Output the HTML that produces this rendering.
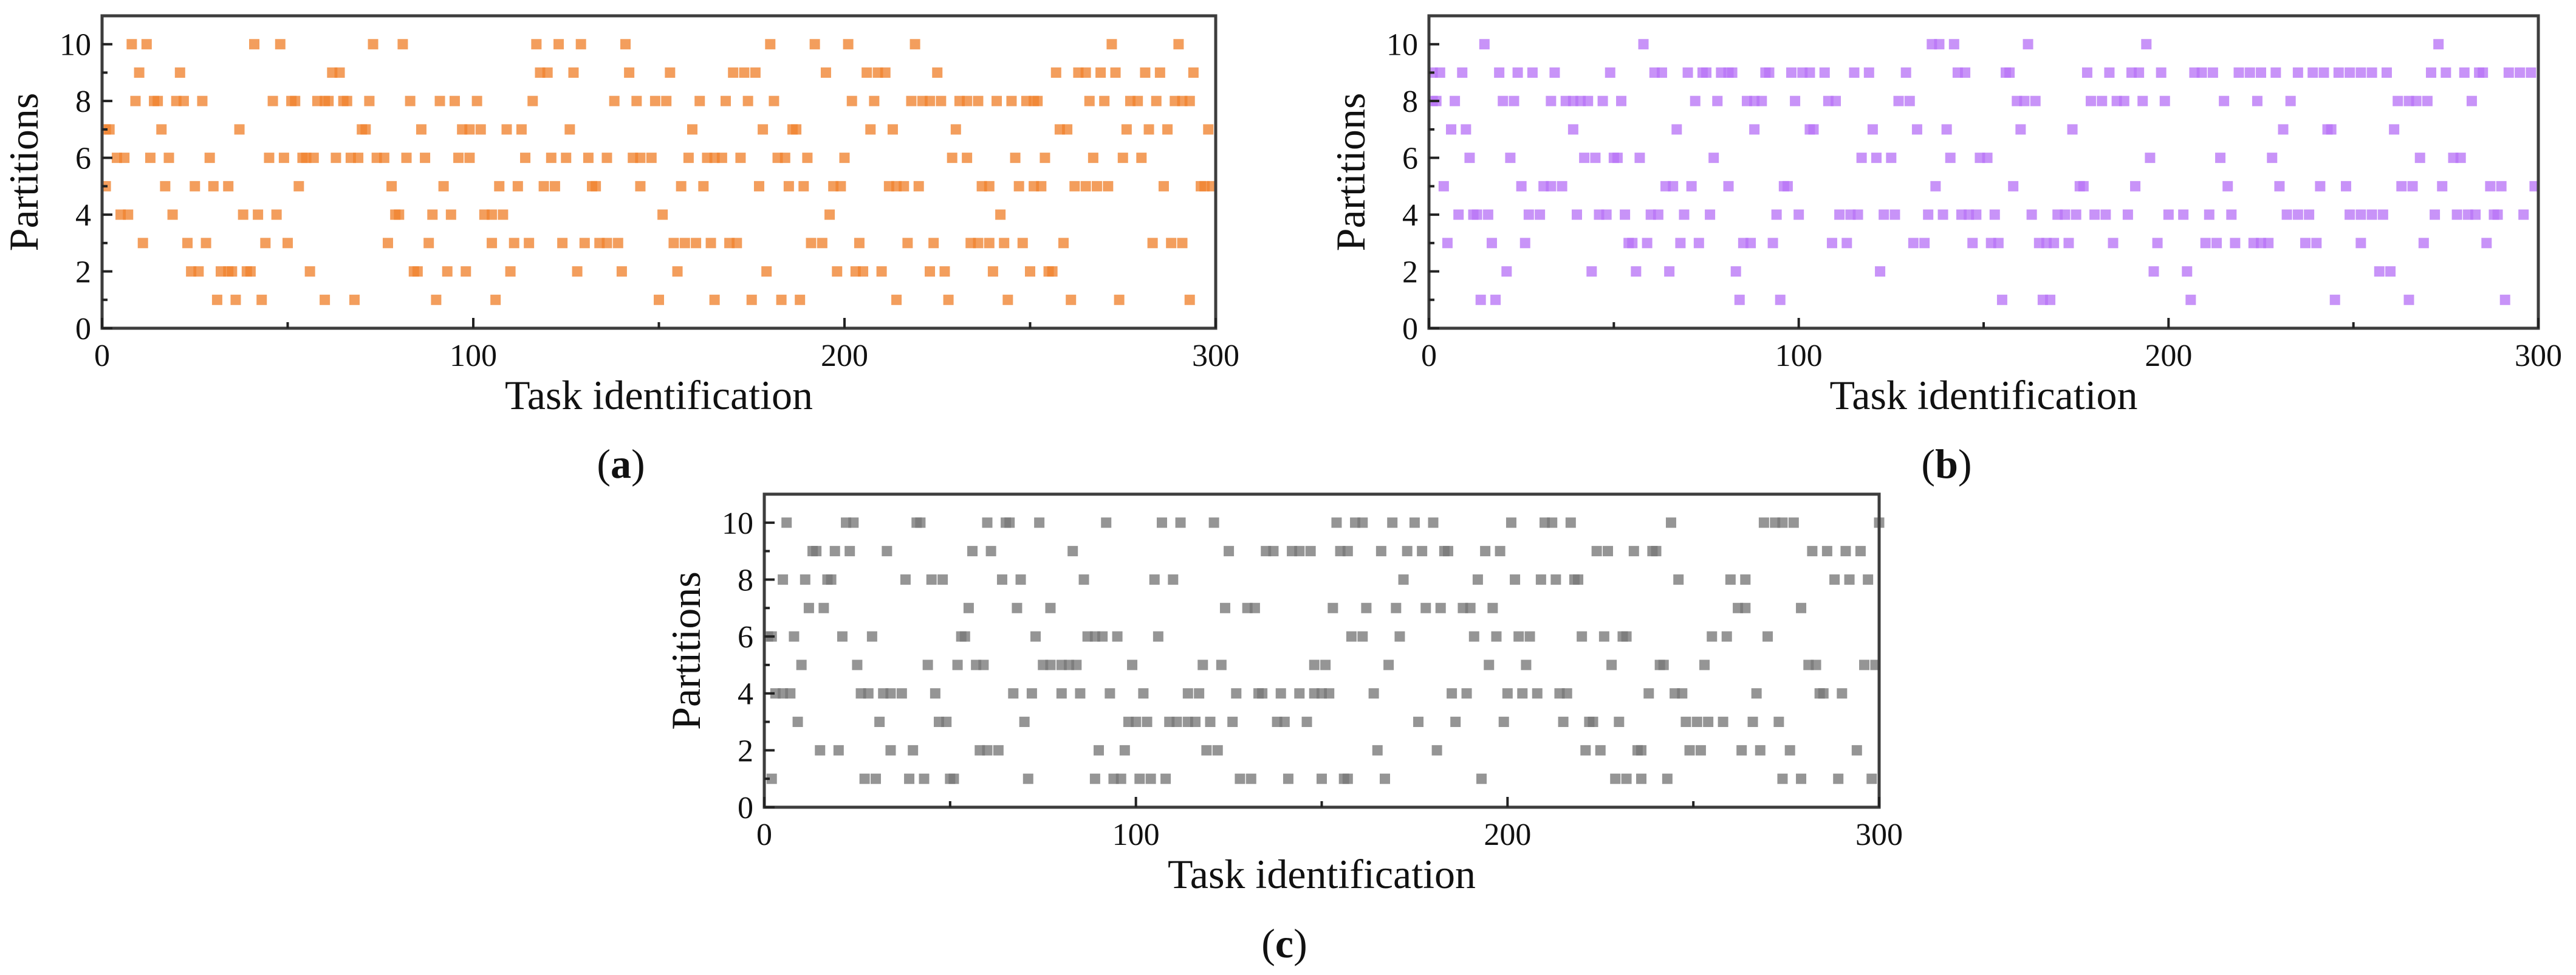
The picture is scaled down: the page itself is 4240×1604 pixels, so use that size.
<!DOCTYPE html>
<html><head><meta charset="utf-8">
<style>
html,body{margin:0;padding:0;background:#fff;}
svg{display:block;}
text{font-family:"Liberation Serif","Times New Roman",serif;fill:#111;}
</style></head>
<body>
<svg id="fig" width="4240" height="1604" viewBox="0 0 4240 1604" xmlns="http://www.w3.org/2000/svg">
  <rect width="4240" height="1604" fill="#fff"/>
  <g id="panel-a"></g>
  <g id="panel-b"></g>
  <g id="panel-c"></g>
  <text x="1022" y="786" font-size="68" text-anchor="middle">(<tspan font-weight="bold">a</tspan>)</text>
  <text x="3204" y="786" font-size="68" text-anchor="middle">(<tspan font-weight="bold">b</tspan>)</text>
  <text x="2114" y="1575" font-size="68" text-anchor="middle">(<tspan font-weight="bold">c</tspan>)</text>
</svg>
<script>
// ---- data: task ids per partition level ----
const xDomain = [0, 300];
const yDomain = [0, 11];
const xTickValues = [0, 100, 200, 300];
const xTickLabels = ["0", "100", "200", "300"];
const xMinorValues = [50, 150, 250];
const yTickValues = [0, 2, 4, 6, 8, 10];
const yTickLabels = ["0", "2", "4", "6", "8", "10"];
const yMinorValues = [1, 3, 5, 7, 9];
const partitionLevels = [10, 9, 8, 7, 6, 5, 4, 3, 2, 1];

const a10 = [8,12,41,48,73,81,117,123,129,141,180,192,201,219,272,290];
const a9 = [10,21,62,64,118,120,127,142,153,170,173,176,195,206,209,211,225,257,263,265,269,273,281,285,294];
const a8 = [9,14,15,20,22,27,46,51,52,58,60,61,65,66,72,83,91,95,101,116,138,144,149,152,161,168,174,181,202,208,218,221,223,226,231,233,236,241,245,249,251,252,266,270,277,279,284,289,291,293];
const a7 = [1,2,16,37,70,71,86,97,99,102,109,113,126,159,178,186,187,207,213,230,258,260,276,282,287,298];
const a6 = [4,6,13,18,29,45,49,54,55,57,63,67,69,74,76,82,87,96,99,114,121,125,131,136,143,145,148,158,163,165,167,172,182,184,190,200,229,233,246,254,267,275,280];
const a5 = [1,17,25,30,34,53,78,92,107,112,119,122,132,133,145,156,162,177,185,189,197,199,212,214,216,220,237,239,247,251,253,262,265,268,271,286,296,297,299];
const a4 = [5,7,19,38,42,47,79,80,89,94,103,105,108,151,196,242];
const a3 = [11,23,28,44,50,77,88,105,111,115,124,130,134,136,139,154,157,160,164,169,171,191,194,204,217,224,234,236,239,243,248,259,283,288,291];
const a2 = [24,26,32,34,35,39,40,56,84,85,93,98,110,128,140,155,179,198,203,205,210,223,227,240,250,255,256];
const a1 = [31,36,43,60,68,90,106,150,165,175,183,188,214,228,244,261,274,293];

const b10 = [15,58,136,138,142,162,194,273];
const b9 = [1,3,9,19,24,28,34,49,61,63,70,74,75,79,81,82,91,92,98,101,103,107,115,119,129,143,145,156,157,178,184,190,192,198,207,209,212,219,222,225,229,235,239,242,246,249,252,255,259,271,275,280,284,285,292,295,298];
const b8 = [1,2,7,20,23,33,37,39,41,43,47,52,72,78,86,88,90,99,108,110,127,130,159,161,164,179,182,186,188,193,199,215,224,233,262,265,267,270,282];
const b7 = [6,10,39,67,88,103,104,120,132,140,160,174,231,243,244,261];
const b6 = [11,22,42,45,50,51,57,77,117,121,125,141,149,151,195,214,228,268,277,279];
const b5 = [4,25,31,33,36,64,66,71,81,96,97,137,158,176,177,191,216,230,241,248,263,266,274,287,290,299];
const b4 = [8,12,13,16,27,30,40,46,48,53,60,62,69,76,94,100,111,114,116,123,126,135,139,144,146,148,153,163,170,172,175,180,183,189,200,204,211,217,232,235,238,249,252,255,258,272,278,281,283,288,289,296];
const b3 = [5,17,26,54,55,59,68,73,85,87,93,109,113,131,134,147,152,154,165,167,169,173,185,197,210,213,218,223,225,227,237,240,252,269,286];
const b2 = [21,44,56,65,83,122,196,205,257,260];
const b1 = [14,18,84,95,155,166,168,206,245,265,291];

const c10 = [6,22,24,41,42,60,65,66,74,92,107,112,121,154,159,161,169,175,180,201,210,212,217,244,269,272,274,277,300];
const c9 = [13,14,19,23,33,56,61,83,125,135,137,142,144,147,155,157,166,173,177,183,184,194,198,224,227,234,239,240,282,286,291,295];
const c8 = [5,11,17,18,38,45,48,64,69,86,105,110,172,192,202,209,213,218,219,246,260,264,288,292,297];
const c7 = [12,16,55,68,77,124,130,132,153,162,170,178,182,188,190,196,262,264,279];
const c6 = [1,2,8,21,29,53,54,73,87,89,91,95,106,158,161,171,191,197,203,206,220,226,231,232,255,259,270];
const c5 = [10,25,44,52,57,59,75,77,80,82,84,99,118,123,148,151,168,195,205,228,241,242,253,281,283,296,299];
const c4 = [3,5,7,26,28,32,34,37,46,67,72,80,85,93,102,114,117,127,133,134,139,144,148,150,152,164,185,189,200,204,208,214,216,238,245,247,267,284,285,290];
const c3 = [9,31,47,49,70,98,100,103,109,111,114,116,120,126,138,140,146,176,186,199,215,222,223,230,248,251,254,258,266,273];
const c2 = [15,20,34,40,58,60,63,90,97,119,122,165,181,221,225,235,236,249,252,263,268,276,294];
const c1 = [2,27,30,39,43,50,51,71,89,94,96,101,104,108,128,131,141,150,156,157,167,193,229,232,236,243,274,279,289,298];

const rowsA = [a10,a9,a8,a7,a6,a5,a4,a3,a2,a1];
const rowsB = [b10,b9,b8,b7,b6,b5,b4,b3,b2,b1];
const rowsC = [c10,c9,c8,c7,c6,c5,c4,c3,c2,c1];

const NS = "http://www.w3.org/2000/svg";
function mk(tag, attrs, parent) {
  const el = document.createElementNS(NS, tag);
  for (const k in attrs) el.setAttribute(k, attrs[k]);
  parent.appendChild(el);
  return el;
}

function drawPanel(gid, box, rows, color, key) {
  const g = document.getElementById(gid);
  const xs = t => box.left + (t - xDomain[0]) / (xDomain[1] - xDomain[0]) * (box.right - box.left);
  const ys = p => box.bottom - (p - yDomain[0]) / (yDomain[1] - yDomain[0]) * (box.bottom - box.top);
  const W = 17, H = 17;
  const marks = mk("g", {}, g);
  
  
  rows.forEach((row, i) => {
    const p = partitionLevels[i];
    row.forEach(t => {
      const r = mk("rect", {x: xs(t) - W / 2, y: ys(p) - H / 2, width: W, height: H, fill: color, "fill-opacity": 0.78}, marks);
      
      
    });
  });
  // frame
  const frame = mk("rect", {x: box.left, y: box.top, width: box.right - box.left, height: box.bottom - box.top, fill: "none", stroke: "#3d3d3d", "stroke-width": 5}, g);
  
  
  // x ticks
  xTickValues.forEach((v, i) => {
    const t = mk("line", {x1: xs(v), x2: xs(v), y1: box.bottom, y2: box.bottom - 17, stroke: "#222", "stroke-width": 4}, g);
    
    
    const l = mk("text", {x: xs(v), y: box.bottom + 62, "font-size": 52, "text-anchor": "middle"}, g);
    l.textContent = xTickLabels[i];
    
    
  });
  xMinorValues.forEach(v => {
    const t = mk("line", {x1: xs(v), x2: xs(v), y1: box.bottom, y2: box.bottom - 10, stroke: "#222", "stroke-width": 4}, g);
    
    
  });
  yTickValues.forEach((v, i) => {
    const t = mk("line", {x1: box.left, x2: box.left + 17, y1: ys(v), y2: ys(v), stroke: "#222", "stroke-width": 4}, g);
    
    
    const l = mk("text", {x: box.left - 18, y: ys(v) + 18, "font-size": 52, "text-anchor": "end"}, g);
    l.textContent = yTickLabels[i];
    
    
  });
  yMinorValues.forEach(v => {
    const t = mk("line", {x1: box.left, x2: box.left + 9, y1: ys(v), y2: ys(v), stroke: "#222", "stroke-width": 4}, g);
    
    
  });
  const xt = mk("text", {x: (box.left + box.right) / 2, y: box.bottom + 133, "font-size": 68, "text-anchor": "middle"}, g);
  xt.textContent = "Task identification";
  
  
  const cy = (box.top + box.bottom) / 2, cx = box.left - 106;
  const yt = mk("text", {x: cx, y: cy, "font-size": 68, "text-anchor": "middle", transform: "rotate(-90 " + cx + " " + cy + ")"}, g);
  yt.textContent = "Partitions";
  
  
}

drawPanel("panel-a", {left: 168, right: 2001, top: 26, bottom: 540}, rowsA, "#F0832F", "a");
drawPanel("panel-b", {left: 2352, right: 4178, top: 26, bottom: 540}, rowsB, "#B874F6", "b");
drawPanel("panel-c", {left: 1258, right: 3093, top: 813, bottom: 1328}, rowsC, "#777777", "c");
</script>
</body></html>
